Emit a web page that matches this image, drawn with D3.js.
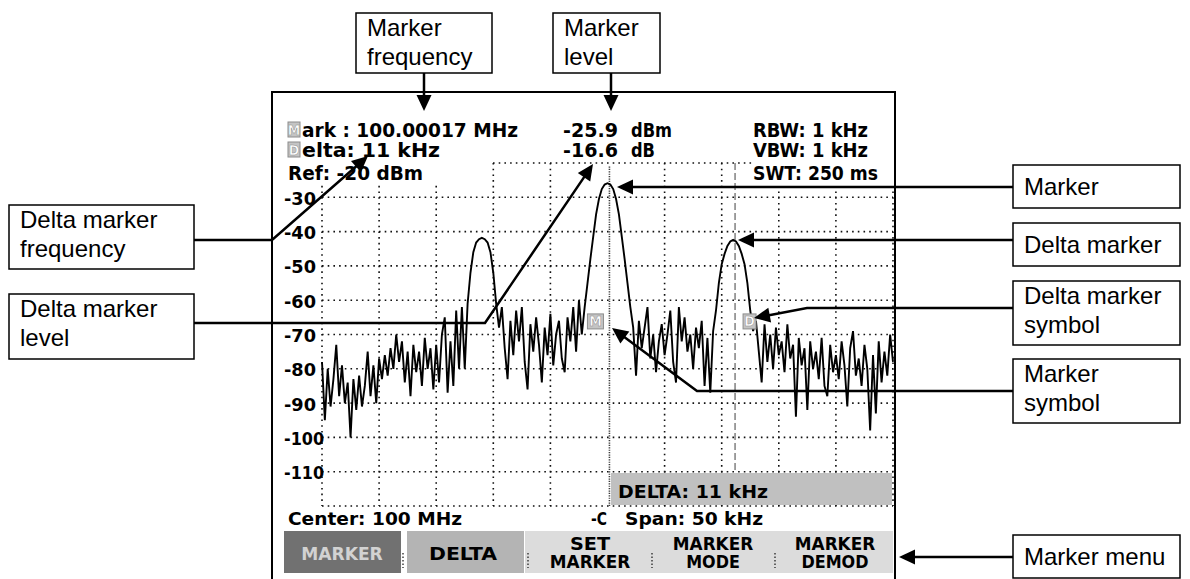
<!DOCTYPE html>
<html><head><meta charset="utf-8">
<script src="https://cdn.jsdelivr.net/npm/d3@7"></script>
<style>html,body{margin:0;padding:0;background:#fff;overflow:hidden} svg{display:block}</style>
</head><body>
<svg id="c" width="1190" height="579"></svg>
<script>
// ---------------- DATA ----------------
const spanKHz = [-25, 25];           // span 50 kHz around 100 MHz
const stepKHz = 0.25;                // sweep point spacing
const levelRange = [-120, -20];      // dBm, Ref -20 dBm, 10 dB/div
const yTicks = [-30, -40, -50, -60, -70, -80, -90, -100, -110];
const gridLevels = [-20, -30, -40, -50, -60, -70, -80, -90, -100, -110, -120];
const gridFreqs = [-25, -20, -15, -10, -5, 0, 5, 10, 15, 20, 25];
const markerKHz = [0.17];            // marker
const deltaKHz = [11.17];            // delta marker (11 kHz)
const symbolLevel = [-64];           // marker symbol level
// trace levels (dBm), one per sweep point from -25 kHz to +25 kHz
const levelsDbm = [
 -78,-95,-80,-91,-83,-73,-88,-79,-90,-84,-100,-83,-92,-82,-91,-85,-75,-88,-79,-90,-77,
 -83,-76,-82,-74,-80,-70,-78,-72,-84,-75,-88,-73,-81,-75,-85,-71,-80,-74,-86,-73,
 -84,-70,-65,-87,-72,-85,-63,-80,-62,-80,
 -61,-52,-46,-43.2,-42.2,-41.8,-42.2,-43.2,-46,-52,-61,-68,
 -62,-74,-83,-66,-76,-63,-72,-62,-78,-86,-67,-75,-65,-73,-84,-68,-76,-64,-79,-70,-66,-77,-81,-65,-72,-62,-75,-60,-70,
 -62,-55,-48,-41.5,-35,-30.5,-27.6,-26.3,-25.9,-26.3,-27.6,-30.5,-35,-41.5,-48,-55,-62,-68,
 -82,-66,-74,-68,-62,-77,-70,-81,-72,-67,-76,-70,-63,-78,-84,-62,-72,-65,-75,-70,-80,-68,-74,-66,-85,-71,-87,
 -69,-63,-55,-49.5,-46.5,-44.2,-42.9,-42.4,-42.9,-44.2,-46.5,-49.5,-55,-63,-69,
 -66,-75,-84,-67,-78,-70,-80,-68,-76,-72,-81,-67,-77,-73,-94,-71,-79,-74,-92,-72,-80,-75,-83,-71,-85,-88,-73,-81,-76,-83,-72,-79,-91,-74,-69,-82,-77,-85,-73,-80,-98,-76,-93,-72,-84,-75,-82,-70,-78
];
const headerTexts = ["ark : 100.00017 MHz", "elta: 11 kHz", "Ref: -20 dBm"];
const levelTexts = [["-25.9", "dBm"], ["-16.6", "dB"]];
const settingTexts = ["RBW: 1 kHz", "VBW: 1 kHz", "SWT: 250 ms"];
const footerTexts = ["Center: 100 MHz", "Span: 50 kHz", "DELTA: 11 kHz"];
const menuItems = [["MARKER"], ["DELTA"], ["SET", "MARKER"], ["MARKER", "MODE"], ["MARKER", "DEMOD"]];
const calloutLabels = [
  ["Marker", "frequency"], ["Marker", "level"],
  ["Delta marker", "frequency"], ["Delta marker", "level"],
  ["Marker"], ["Delta marker"], ["Delta marker", "symbol"], ["Marker", "symbol"], ["Marker menu"]
];

// ---------------- LAYOUT ----------------
const svg = d3.select("#c");
const SF = "'DejaVu Sans Condensed','DejaVu Sans',sans-serif";
const CF = "'Liberation Sans',Arial,sans-serif";
const x = d3.scaleLinear().domain(spanKHz).range([322, 893]);
const y = d3.scaleLinear().domain(levelRange).range([506, 163]);
const pts = levelsDbm.map((v, i) => ({f: spanKHz[0] + i * stepKHz, v}));

// grid
const grid = svg.append("g").attr("stroke", "#111").attr("stroke-width", 1.6).attr("stroke-dasharray", "1.6,4.1");
grid.selectAll("line.h").data(gridLevels).join("line")
  .attr("x1", x(spanKHz[0])).attr("x2", x(spanKHz[1])).attr("y1", d => y(d)).attr("y2", d => y(d));
grid.selectAll("line.v").data(gridFreqs.filter(f => f !== 0)).join("line")
  .attr("x1", d => x(d)).attr("x2", d => x(d)).attr("y1", y(levelRange[1])).attr("y2", y(levelRange[0]));

// masks behind header text
svg.append("rect").attr("x", 273).attr("y", 93).attr("width", 217).attr("height", 92).attr("fill", "#fff");
svg.append("rect").attr("x", 752).attr("y", 93).attr("width", 142).attr("height", 95).attr("fill", "#fff");

// marker line (dense dotted) and delta line (dashed)
svg.selectAll("line.mk").data(markerKHz).join("line")
  .attr("x1", d => x(d)).attr("x2", d => x(d)).attr("y1", y(-21)).attr("y2", y(levelRange[0]))
  .attr("stroke", "#3a3a3a").attr("stroke-width", 1.6).attr("stroke-dasharray", "1.2,1.2");
svg.selectAll("line.dl").data(deltaKHz).join("line")
  .attr("x1", d => x(d)).attr("x2", d => x(d)).attr("y1", y(levelRange[1])).attr("y2", 473)
  .attr("stroke", "#808080").attr("stroke-width", 1.5).attr("stroke-dasharray", "7,3");

// DELTA info box
svg.append("rect").attr("x", 611).attr("y", 473).attr("width", 281).attr("height", 32).attr("fill", "#c0c0c0");

// trace
svg.append("path").datum(pts)
  .attr("d", d3.line().x(d => x(d.f)).y(d => y(d.v)))
  .attr("fill", "none").attr("stroke", "#000").attr("stroke-width", 1.9).attr("stroke-linejoin", "miter");

// symbol helper
function symbol(cx, cy, w, h, ch) {
  svg.append("rect").attr("x", cx).attr("y", cy).attr("width", w).attr("height", h)
    .attr("fill", "#c4c4c4").attr("stroke", "#8c8c8c").attr("stroke-width", 1);
  svg.append("text").attr("x", cx + w / 2).attr("y", cy + h - 2.5).attr("text-anchor", "middle")
    .attr("font-family", SF).attr("font-weight", "bold").attr("font-size", 14)
    .attr("fill", "#fff").attr("stroke", "#8c8c8c").attr("stroke-width", 0.5).text(ch);
}
symbol(x(markerKHz[0]) - 22, y(symbolLevel[0]), 16, 15, "M");
symbol(x(deltaKHz[0]) + 8, y(symbolLevel[0]), 13, 15, "D");

// text helper
function stext(t, x0, base, w, size, fill) {
  return svg.append("text").attr("x", x0).attr("y", base)
    .attr("font-family", SF).attr("font-weight", "bold").attr("font-size", size || 18)
    .attr("fill", fill || "#000").attr("textLength", w).attr("lengthAdjust", "spacingAndGlyphs").text(t);
}
// y labels
yTicks.forEach(v => stext(String(v), 284, y(v) + 7.5, String(v).length > 3 ? 40 : 32, 18));

// header
symbol(288, 122, 12, 15, "M");
symbol(288, 142, 12, 15, "D");
stext(headerTexts[0], 302, 137, 216, 19);
stext(headerTexts[1], 302, 157, 138, 19);
stext(headerTexts[2], 288, 180, 135, 19);
stext(levelTexts[0][0], 563, 137, 55, 19); stext(levelTexts[0][1], 631, 137, 41, 19);
stext(levelTexts[1][0], 563, 157, 55, 19); stext(levelTexts[1][1], 631, 157, 24, 19);
stext(settingTexts[0], 753, 137, 115, 19);
stext(settingTexts[1], 753, 157, 115, 19);
stext(settingTexts[2], 753, 180, 125, 19);

// footer
stext(footerTexts[2], 618, 498, 150, 18);
stext(footerTexts[0], 288, 525, 174, 18);
stext("-C", 591, 525, 16, 18);
stext(footerTexts[1], 625, 525, 138, 18);

// menu
svg.append("rect").attr("x", 525).attr("y", 531).attr("width", 368).attr("height", 42).attr("fill", "#dcdcdc");
svg.append("rect").attr("x", 284).attr("y", 531).attr("width", 117).attr("height", 42).attr("fill", "#717171");
svg.append("rect").attr("x", 407).attr("y", 531).attr("width", 117).attr("height", 42).attr("fill", "#b4b4b4");
[403, 528, 652, 775].forEach(sx => svg.append("line").attr("x1", sx).attr("x2", sx).attr("y1", 553).attr("y2", 568)
  .attr("stroke", "#222").attr("stroke-width", 1.3).attr("stroke-dasharray", "1.5,2"));
const menuCenters = [342, 463, 590, 713, 835];
menuItems.forEach((lines, i) => {
  const cx = menuCenters[i];
  const fill = i === 0 ? "#d2d2d2" : "#000";
  if (lines.length === 1) {
    const w = lines[0].length * 13.6;
    stext(lines[0], cx - w / 2, 560, w, 18, fill);
  } else {
    lines.forEach((t, k) => {
      const w = t.length * 13.4;
      stext(t, cx - w / 2, k === 0 ? 550 : 568, w, 17, fill);
    });
  }
});

// screen frame
const frame = svg.append("g").attr("stroke", "#000").attr("stroke-width", 2).attr("fill", "none");
frame.append("path").attr("d", "M272,579 V92 H895 V579");

// callouts
const boxes = [
  [356, 13, 136, 60], [553, 13, 107, 60],
  [9, 205, 185, 64], [9, 294, 185, 65],
  [1013, 165, 167, 43], [1013, 223, 167, 43], [1013, 281, 167, 64], [1013, 359, 167, 64], [1013, 535, 167, 43]
];
const cg = svg.append("g");
boxes.forEach((b, i) => {
  cg.append("rect").attr("x", b[0]).attr("y", b[1]).attr("width", b[2]).attr("height", b[3])
    .attr("fill", "#fff").attr("stroke", "#000").attr("stroke-width", 1.5);
  const lines = calloutLabels[i];
  const first = lines.length === 1 ? b[1] + b[3] / 2 + 8.5 : b[1] + 23;
  lines.forEach((t, k) => cg.append("text").attr("x", b[0] + 11).attr("y", first + k * 29)
    .attr("font-family", CF).attr("font-size", 24).attr("fill", "#000").text(t));
});

function arrow(p) {
  const n = p.length, [tx, ty] = p[n - 1], [px, py] = p[n - 2];
  const dx = tx - px, dy = ty - py, L = Math.hypot(dx, dy), ux = dx / L, uy = dy / L;
  const hl = 16, hw = 7.5, bx = tx - ux * hl, by = ty - uy * hl;
  const line = p.slice(0, n - 1).concat([[bx + ux * 2, by + uy * 2]]);
  svg.append("path").attr("d", d3.line()(line)).attr("fill", "none").attr("stroke", "#000").attr("stroke-width", 2.5);
  svg.append("path").attr("d", d3.line()([[tx, ty], [bx - uy * hw, by + ux * hw], [bx + uy * hw, by - ux * hw]]) + "Z")
    .attr("fill", "#000");
}
[
  [[424, 73], [424, 111]],
  [[611, 73], [611, 111]],
  [[194, 240], [272, 240], [368, 156]],
  [[194, 323], [485, 323], [593, 164]],
  [[1013, 187], [617, 187]],
  [[1013, 240], [738, 240]],
  [[1013, 308], [807, 308], [754, 318]],
  [[1013, 391], [697, 391], [612, 328]],
  [[1013, 557], [899, 557]]
].forEach(arrow);
</script>
</body></html>
